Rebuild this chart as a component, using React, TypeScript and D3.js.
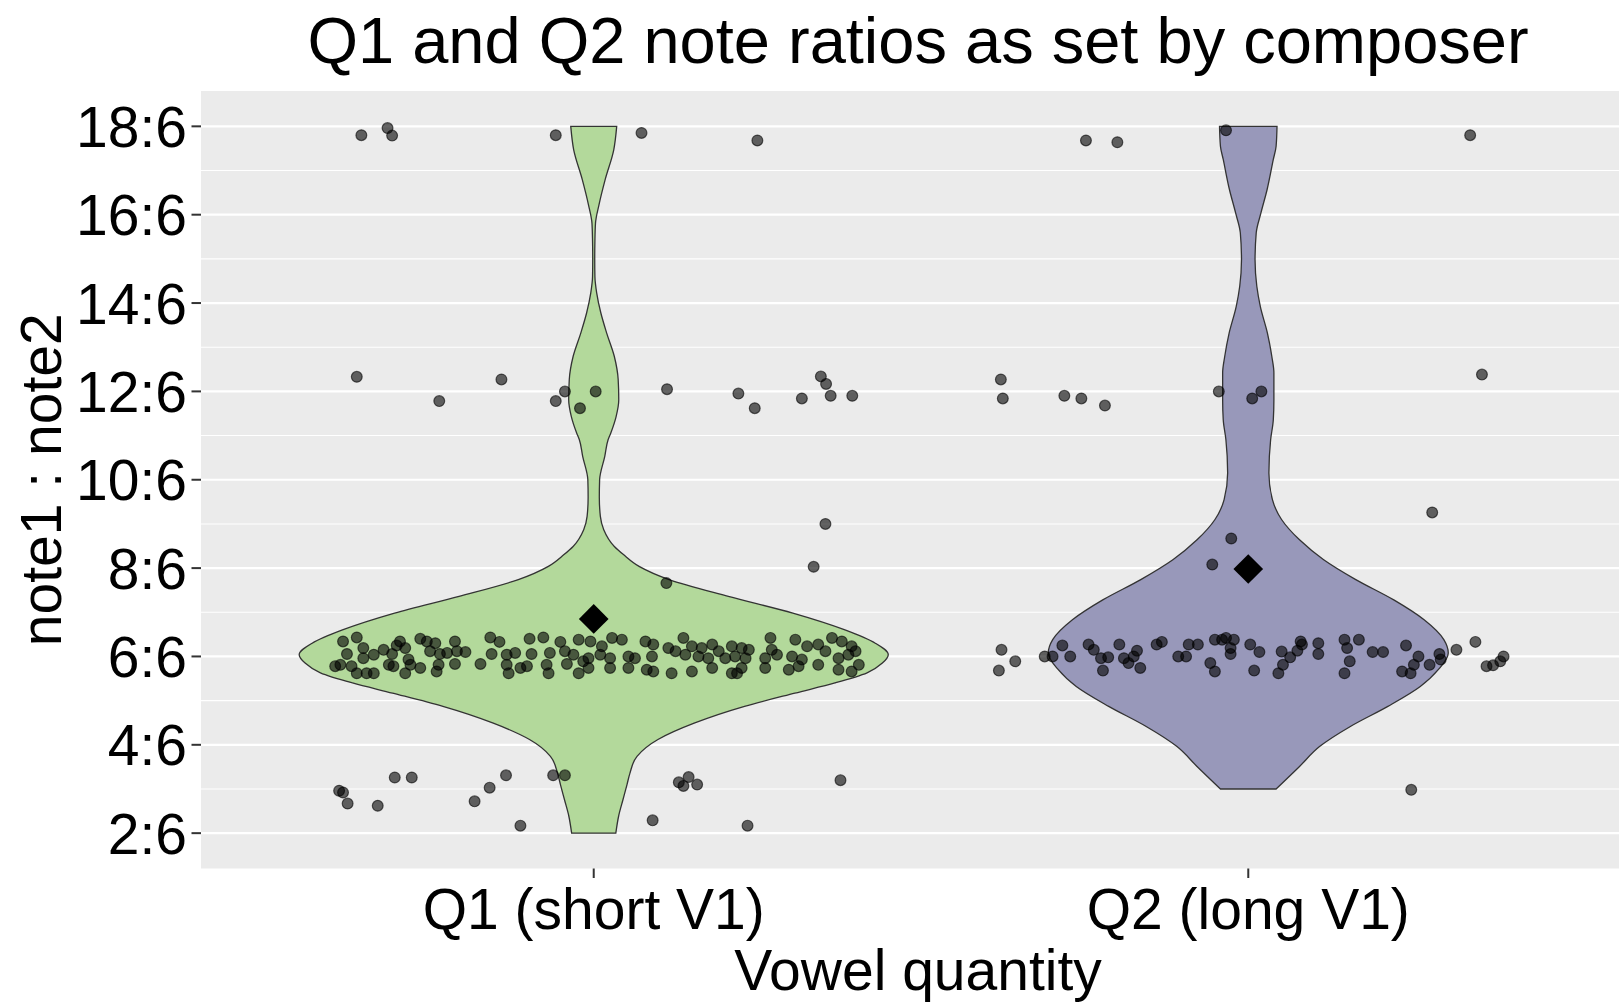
import React, { useEffect, useRef } from 'react';
import * as d3 from 'd3';

// categories and axis labels
const categories = ['Q1 (short V1)', 'Q2 (long V1)'];
const yTickValues = [2, 4, 6, 8, 10, 12, 14, 16, 18];
const yTickLabels = ['2:6', '4:6', '6:6', '8:6', '10:6', '12:6', '14:6', '16:6', '18:6'];
const yMinorValues = [3, 5, 7, 9, 11, 13, 15, 17];
const groupMeans = [6.85, 7.98];

// violin outlines: ratio value -> relative density (1 = widest)
const q1ViolinY = [18.0, 17.47, 16.79, 16.23, 15.81, 15.4, 15.0, 14.6, 14.23, 13.78, 13.32, 12.79, 12.27, 11.81, 11.43, 11.06, 10.91, 10.53, 10.0, 9.6, 9.17, 8.87, 8.49, 8.3, 8.04, 7.74, 7.36, 6.98, 6.6, 6.3, 6.04, 5.85, 5.63, 5.4, 5.17, 4.87, 4.49, 4.12, 3.74, 3.36, 3.1, 2.75, 2.4, 2.0];
const q1ViolinDensity = [0.078, 0.068, 0.0386, 0.018, 0.006, 0.004, 0.0034, 0.004, 0.01, 0.024, 0.044, 0.07, 0.083, 0.085, 0.076, 0.058, 0.049, 0.0375, 0.02, 0.019, 0.0225, 0.034, 0.07, 0.102, 0.154, 0.256, 0.457, 0.676, 0.853, 0.956, 1.0, 0.98, 0.928, 0.819, 0.683, 0.512, 0.341, 0.218, 0.147, 0.123, 0.113, 0.099, 0.085, 0.075];
const q2ViolinY = [18.0, 17.55, 17.25, 16.57, 16.04, 15.59, 14.98, 14.38, 13.92, 13.32, 12.79, 12.42, 11.81, 11.36, 10.91, 10.15, 9.55, 9.1, 8.64, 8.19, 7.74, 7.28, 6.83, 6.38, 6.08, 5.7, 5.32, 4.87, 4.42, 3.96, 3.51, 3.0];
const q2ViolinDensity = [0.0976, 0.0945, 0.085, 0.064, 0.043, 0.027, 0.023, 0.029, 0.041, 0.065, 0.08, 0.087, 0.087, 0.085, 0.076, 0.07, 0.082, 0.113, 0.174, 0.256, 0.365, 0.494, 0.597, 0.664, 0.679, 0.645, 0.584, 0.474, 0.348, 0.242, 0.174, 0.0945];

// jittered points: [horizontal jitter in category units, ratio value]
const q1Points = [
  [-0.355, 17.8], [-0.315, 17.96], [-0.308, 17.79], [-0.058, 17.8], [0.073, 17.85], [0.25, 17.68],
  [-0.362, 12.33], [-0.236, 11.78], [-0.141, 12.27], [-0.044, 12.0], [-0.058, 11.78], [0.003, 12.0], [-0.021, 11.62],
  [0.112, 12.05], [0.221, 11.95], [0.246, 11.62], [0.318, 11.84], [0.347, 12.34], [0.355, 12.17], [0.362, 11.9], [0.395, 11.9],
  [0.354, 9.0], [0.336, 8.03], [0.111, 7.66],
  [-0.389, 2.96], [-0.383, 2.92], [-0.376, 2.67], [-0.33, 2.62], [-0.304, 3.26], [-0.278, 3.26], [-0.182, 2.72],
  [-0.159, 3.03], [-0.134, 3.31], [-0.112, 2.17], [-0.062, 3.31], [-0.044, 3.31], [0.09, 2.29], [0.13, 3.15],
  [0.145, 3.27], [0.137, 3.07], [0.158, 3.1], [0.235, 2.17], [0.377, 3.2],
  [-0.383, 6.34], [-0.362, 6.43], [-0.296, 6.34], [-0.265, 6.4], [-0.255, 6.34], [-0.242, 6.3], [-0.212, 6.34],
  [-0.158, 6.43], [-0.144, 6.33], [-0.098, 6.4], [-0.077, 6.43], [-0.051, 6.33], [-0.023, 6.38],
  [-0.377, 6.055], [-0.352, 6.19], [-0.321, 6.15], [-0.301, 6.25], [-0.288, 6.19], [-0.352, 5.96], [-0.336, 6.04],
  [-0.308, 6.055], [-0.283, 5.93], [-0.25, 6.12], [-0.235, 6.055], [-0.224, 6.08], [-0.209, 6.12], [-0.196, 6.1],
  [-0.156, 6.055], [-0.133, 6.04], [-0.12, 6.08], [-0.095, 6.055], [-0.067, 6.08], [-0.044, 6.12], [-0.031, 6.04],
  [-0.395, 5.78], [-0.387, 5.81], [-0.37, 5.78], [-0.362, 5.62], [-0.347, 5.62], [-0.336, 5.62], [-0.313, 5.81],
  [-0.306, 5.78], [-0.288, 5.62], [-0.28, 5.81], [-0.265, 5.74], [-0.24, 5.66], [-0.237, 5.81], [-0.212, 5.83],
  [-0.173, 5.83], [-0.133, 5.81], [-0.13, 5.62], [-0.112, 5.74], [-0.102, 5.78], [-0.072, 5.81], [-0.069, 5.62],
  [-0.041, 5.83], [-0.023, 5.62], [-0.016, 5.89],
  [-0.005, 6.34], [0.0125, 6.23], [0.028, 6.42], [0.043, 6.38], [0.079, 6.34], [0.091, 6.27], [0.137, 6.42],
  [0.114, 6.19], [0.15, 6.23], [0.165, 6.19], [0.181, 6.27], [0.191, 6.12], [0.211, 6.23], [0.226, 6.19],
  [0.237, 6.15], [0.27, 6.42], [0.272, 6.15], [0.308, 6.38], [0.326, 6.23], [0.343, 6.27], [0.364, 6.42],
  [0.379, 6.34], [0.394, 6.23],
  [-0.008, 5.96], [0.01, 6.04], [0.025, 5.96], [0.053, 6.0], [0.063, 5.96], [0.089, 6.0], [0.125, 6.12],
  [0.14, 6.04], [0.16, 6.0], [0.175, 5.96], [0.201, 5.96], [0.216, 6.0], [0.232, 5.96], [0.262, 5.96],
  [0.28, 6.04], [0.303, 6.0], [0.318, 5.93], [0.354, 6.12], [0.374, 5.96], [0.389, 6.04], [0.4, 6.12],
  [-0.008, 5.74], [0.025, 5.74], [0.053, 5.74], [0.081, 5.7], [0.091, 5.66], [0.119, 5.62], [0.15, 5.66],
  [0.181, 5.74], [0.211, 5.62], [0.219, 5.62], [0.226, 5.74], [0.262, 5.74], [0.298, 5.7], [0.313, 5.78],
  [0.343, 5.81], [0.374, 5.7], [0.394, 5.66], [0.405, 5.81]
];

const q2Points = [
  [-0.034, 17.91], [-0.248, 17.68], [-0.2, 17.64], [0.339, 17.8],
  [-0.378, 12.27], [-0.375, 11.84], [-0.281, 11.9], [-0.255, 11.84], [-0.219, 11.68], [-0.045, 12.0],
  [0.006, 11.84], [0.02, 12.0], [0.357, 12.38],
  [0.281, 9.26], [-0.026, 8.67], [-0.055, 8.08],
  [0.249, 2.98],
  [-0.377, 6.15], [-0.356, 5.89], [-0.381, 5.68], [-0.311, 6.0], [-0.299, 6.0], [-0.284, 6.25], [-0.272, 6.0],
  [-0.244, 6.27], [-0.236, 6.15], [-0.225, 5.96], [-0.214, 5.98], [-0.222, 5.68], [-0.197, 6.27], [-0.19, 5.96],
  [-0.183, 5.85], [-0.17, 6.13], [-0.175, 6.0], [-0.165, 5.74], [-0.14, 6.27], [-0.132, 6.33], [-0.107, 6.0],
  [-0.095, 6.0], [-0.091, 6.27], [-0.077, 6.27], [-0.058, 5.85], [-0.051, 5.66], [-0.051, 6.38], [-0.04, 6.38],
  [-0.034, 6.42], [-0.022, 6.38], [-0.027, 6.19], [-0.027, 6.055],
  [0.003, 6.27], [0.017, 6.1], [0.009, 5.68], [0.051, 6.11], [0.053, 5.81], [0.046, 5.62], [0.064, 5.98],
  [0.075, 6.13], [0.08, 6.34], [0.082, 6.27], [0.107, 6.3], [0.107, 6.055], [0.147, 6.38], [0.151, 6.19],
  [0.155, 5.89], [0.147, 5.62], [0.169, 6.38], [0.19, 6.1], [0.206, 6.1], [0.241, 6.25], [0.26, 6.0],
  [0.253, 5.81], [0.235, 5.66], [0.248, 5.62], [0.277, 5.81], [0.292, 6.055], [0.294, 5.93], [0.318, 6.15],
  [0.347, 6.33], [0.39, 6.0], [0.385, 5.89], [0.374, 5.8], [0.364, 5.78]
];

const violinColors = ['#b3d99b', '#9898ba'];

export default function App() {
  const ref = useRef<SVGSVGElement>(null);

  useEffect(() => {
    const width = 1619;
    const height = 1002;
    const font = '"Liberation Sans", Arial, sans-serif';

    const svg = d3.select(ref.current);
    svg.selectAll('*').remove();

    const x = d3.scaleLinear().domain([0.4, 2.6]).range([201, 1641]);
    const y = d3.scaleLinear().domain([1.2, 18.8]).range([868.5, 91]);
    const halfWidth = d3.scaleLinear().domain([0, 1]).range([0, 0.45]);

    // panel
    svg.append('rect')
      .attr('x', x(0.4)).attr('y', y(18.8))
      .attr('width', x(2.6) - x(0.4)).attr('height', y(1.2) - y(18.8))
      .attr('fill', '#ebebeb');

    svg.append('g').selectAll('line')
      .data(yMinorValues)
      .enter().append('line')
      .attr('x1', x(0.4)).attr('x2', x(2.6))
      .attr('y1', d => y(d)).attr('y2', d => y(d))
      .attr('stroke', '#fff').attr('stroke-width', 1.1);

    svg.append('g').selectAll('line')
      .data(yTickValues)
      .enter().append('line')
      .attr('x1', x(0.4)).attr('x2', x(2.6))
      .attr('y1', d => y(d)).attr('y2', d => y(d))
      .attr('stroke', '#fff').attr('stroke-width', 2.2);

    // violins
    const violins = [
      { ys: q1ViolinY, dens: q1ViolinDensity },
      { ys: q2ViolinY, dens: q2ViolinDensity }
    ];
    violins.forEach((v, i) => {
      const c = i + 1;
      const rows = v.ys.map((val, j) => [val, v.dens[j]]);
      const area = d3.area<number[]>()
        .y(d => y(d[0]))
        .x0(d => x(c - halfWidth(d[1])))
        .x1(d => x(c + halfWidth(d[1])))
        .curve(d3.curveMonotoneY);
      svg.append('path')
        .attr('d', area(rows))
        .attr('fill', violinColors[i])
        .attr('stroke', '#333')
        .attr('stroke-width', 1.3);
    });

    // jittered points
    [q1Points, q2Points].forEach((pts, i) => {
      svg.append('g').selectAll('circle')
        .data(pts)
        .enter().append('circle')
        .attr('cx', d => x(i + 1 + d[0]))
        .attr('cy', d => y(d[1]))
        .attr('r', 5.4)
        .attr('fill', '#000').attr('fill-opacity', 0.6)
        .attr('stroke', '#000').attr('stroke-opacity', 0.6).attr('stroke-width', 1.2);
    });

    // means
    const diamond = d3.symbol().type(d3.symbolSquare).size(440);
    svg.append('g').selectAll('path')
      .data(groupMeans)
      .enter().append('path')
      .attr('d', diamond())
      .attr('transform', (d, i) => 'translate(' + x(i + 1) + ',' + y(d) + ') rotate(45)')
      .attr('fill', '#000');

    // y axis
    const yAxis = svg.append('g');
    yAxis.selectAll('line')
      .data(yTickValues)
      .enter().append('line')
      .attr('x1', x(0.4) - 9.5).attr('x2', x(0.4))
      .attr('y1', d => y(d)).attr('y2', d => y(d))
      .attr('stroke', '#333').attr('stroke-width', 2);
    yAxis.selectAll('text')
      .data(yTickValues)
      .enter().append('text')
      .attr('x', x(0.4) - 14)
      .attr('y', d => y(d))
      .attr('dy', '0.36em')
      .attr('text-anchor', 'end')
      .attr('font-family', font)
      .attr('font-size', 57)
      .attr('fill', '#000')
      .text((d, i) => yTickLabels[i]);

    // x axis
    const xAxis = svg.append('g');
    xAxis.selectAll('line')
      .data(categories)
      .enter().append('line')
      .attr('x1', (d, i) => x(i + 1)).attr('x2', (d, i) => x(i + 1))
      .attr('y1', y(1.2)).attr('y2', y(1.2) + 9.5)
      .attr('stroke', '#333').attr('stroke-width', 2);
    xAxis.selectAll('text')
      .data(categories)
      .enter().append('text')
      .attr('x', (d, i) => x(i + 1))
      .attr('y', 929)
      .attr('text-anchor', 'middle')
      .attr('font-family', font)
      .attr('font-size', 57)
      .attr('fill', '#000')
      .text(d => d);

    // titles
    svg.append('text')
      .attr('x', 918).attr('y', 63)
      .attr('text-anchor', 'middle')
      .attr('font-family', font).attr('font-size', 65)
      .attr('fill', '#000')
      .text('Q1 and Q2 note ratios as set by composer');

    svg.append('text')
      .attr('x', 918).attr('y', 990)
      .attr('text-anchor', 'middle')
      .attr('font-family', font).attr('font-size', 57)
      .attr('fill', '#000')
      .text('Vowel quantity');

    svg.append('text')
      .attr('transform', 'translate(61,' + (y(1.2) + y(18.8)) / 2 + ') rotate(-90)')
      .attr('text-anchor', 'middle')
      .attr('font-family', font).attr('font-size', 57)
      .attr('fill', '#000')
      .text('note1 : note2');

    svg.attr('width', width).attr('height', height);
  }, []);

  return (
    <svg ref={ref} width={1619} height={1002}
      style={{ position: 'absolute', left: 0, top: 0, background: '#fff' }} />
  );
}
